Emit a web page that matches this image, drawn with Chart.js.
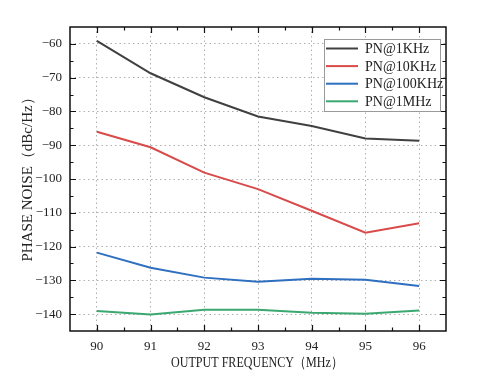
<!DOCTYPE html>
<html>
<head>
<meta charset="utf-8">
<script src="https://cdn.jsdelivr.net/npm/chart.js@4/dist/chart.umd.min.js"></script>
<style>
  html, body { margin: 0; padding: 0; background: #fff; }
</style>
</head>
<body>
<canvas id="c" width="493" height="391"></canvas>
<script>
const freqs = [90, 91, 92, 93, 94, 95, 96];
const pn1k = [-59.1, -68.7, -75.8, -81.5, -84.3, -88.0, -88.7];
const pn10k = [-86.0, -90.6, -98.1, -103.0, -109.4, -115.9, -113.1];
const pn100k = [-121.8, -126.3, -129.2, -130.4, -129.5, -129.8, -131.7];
const pn1m = [-139.1, -140.1, -138.7, -138.7, -139.6, -139.9, -138.9];
const names = ['PN@1KHz', 'PN@10KHz', 'PN@100KHz', 'PN@1MHz'];
const colors = ['#404040', '#d94a4a', '#2e6fc0', '#3aa870'];
const yTicks = [-140, -130, -120, -110, -100, -90, -80, -70, -60];
const xTitle = 'OUTPUT FREQUENCY（MHz）';
const yTitle = 'PHASE NOISE（dBc/Hz）';

const serif = '"Liberation Serif", "Times New Roman", serif';

function pts(arr) { return freqs.map((f, i) => ({ x: f, y: arr[i] })); }

// frame, inward ticks on all four sides, condensed axis titles, legend
const frame = {
    id: 'frame',
    afterDraw(chart) {
        const { ctx, chartArea: a, scales: { x, y } } = chart;
        ctx.save();
        ctx.strokeStyle = '#111';
        ctx.lineWidth = 1.5;
        ctx.strokeRect(a.left, a.top, a.right - a.left, a.bottom - a.top);
        ctx.lineWidth = 1.2;
        ctx.beginPath();
        for (let v = 89.5; v <= 96.5; v += 0.5) {
            const px = Math.round(x.getPixelForValue(v)) + 0.5;
            const len = Number.isInteger(v) ? 6 : 3.5;
            if (px <= a.left + 1 || px >= a.right - 1) continue;
            ctx.moveTo(px, a.bottom); ctx.lineTo(px, a.bottom - len);
            ctx.moveTo(px, a.top); ctx.lineTo(px, a.top + len);
        }
        for (let v = -145; v <= -55; v += 5) {
            const py = Math.round(y.getPixelForValue(v)) + 0.5;
            const len = v % 10 === 0 ? 6 : 3.5;
            if (py <= a.top + 1 || py >= a.bottom - 1) continue;
            ctx.moveTo(a.left, py); ctx.lineTo(a.left + len, py);
            ctx.moveTo(a.right, py); ctx.lineTo(a.right - len, py);
        }
        ctx.stroke();

        // axis titles (narrow, like the original's CJK serif)
        ctx.fillStyle = '#222';
        ctx.font = '15px ' + serif;
        ctx.textAlign = 'center';
        ctx.textBaseline = 'middle';
        ctx.fillText(xTitle, (a.left + a.right) / 2 - 1, 363, 172);
        ctx.save();
        ctx.translate(28, (a.top + a.bottom) / 2 - 3);
        ctx.rotate(-Math.PI / 2);
        ctx.fillText(yTitle, 0, 0, 173);
        ctx.restore();

        // legend box
        const lx = 324, ly = 39, lw = 116, lh = 72;
        ctx.textAlign = 'left';
        ctx.fillStyle = '#fff';
        ctx.fillRect(lx, ly, lw, lh);
        ctx.strokeStyle = '#9a9a9a';
        ctx.lineWidth = 1;
        ctx.strokeRect(lx + 0.5, ly + 0.5, lw, lh);
        ctx.font = '14px ' + serif;
        chart.data.datasets.forEach((ds, i) => {
            const ry = ly + 9.5 + i * 17.6;
            ctx.strokeStyle = ds.borderColor;
            ctx.lineWidth = 2;
            ctx.beginPath();
            ctx.moveTo(lx + 2, ry); ctx.lineTo(lx + 34, ry);
            ctx.stroke();
            ctx.fillStyle = '#222';
            ctx.fillText(ds.label, lx + 41, ry + 1);
        });
        ctx.restore();
    }
};

new Chart(document.getElementById('c'), {
    type: 'line',
    data: {
        datasets: [pn1k, pn10k, pn100k, pn1m].map((arr, i) => ({
            label: names[i],
            data: pts(arr),
            borderColor: colors[i],
            backgroundColor: colors[i],
            borderWidth: 2,
            pointRadius: 0,
            tension: 0
        }))
    },
    options: {
        responsive: false,
        animation: false,
        layout: { padding: { left: 0, right: 47, top: 27, bottom: 0 } },
        plugins: { legend: { display: false }, tooltip: { enabled: false } },
        scales: {
            x: {
                type: 'linear',
                min: 89.5, max: 96.5,
                afterBuildTicks: s => { s.ticks = freqs.map(v => ({ value: v })); },
                afterFit: s => { s.height = 60; },
                grid: { color: '#b0b0b0', lineWidth: 1, drawTicks: false },
                border: { display: false, dash: [1.5, 3] },
                ticks: {
                    padding: 8,
                    color: '#222',
                    font: { family: serif, size: 13 }
                }
            },
            y: {
                min: -145, max: -55,
                afterBuildTicks: s => { s.ticks = yTicks.map(v => ({ value: v })); },
                afterFit: s => { s.width = 70; },
                grid: { color: '#b0b0b0', lineWidth: 1, drawTicks: false },
                border: { display: false, dash: [1.5, 3] },
                ticks: {
                    padding: 8,
                    color: '#222',
                    font: { family: serif, size: 13 },
                    callback: v => String(v).replace('-', '\u2212')
                }
            }
        }
    },
    plugins: [frame]
});
</script>
</body>
</html>
